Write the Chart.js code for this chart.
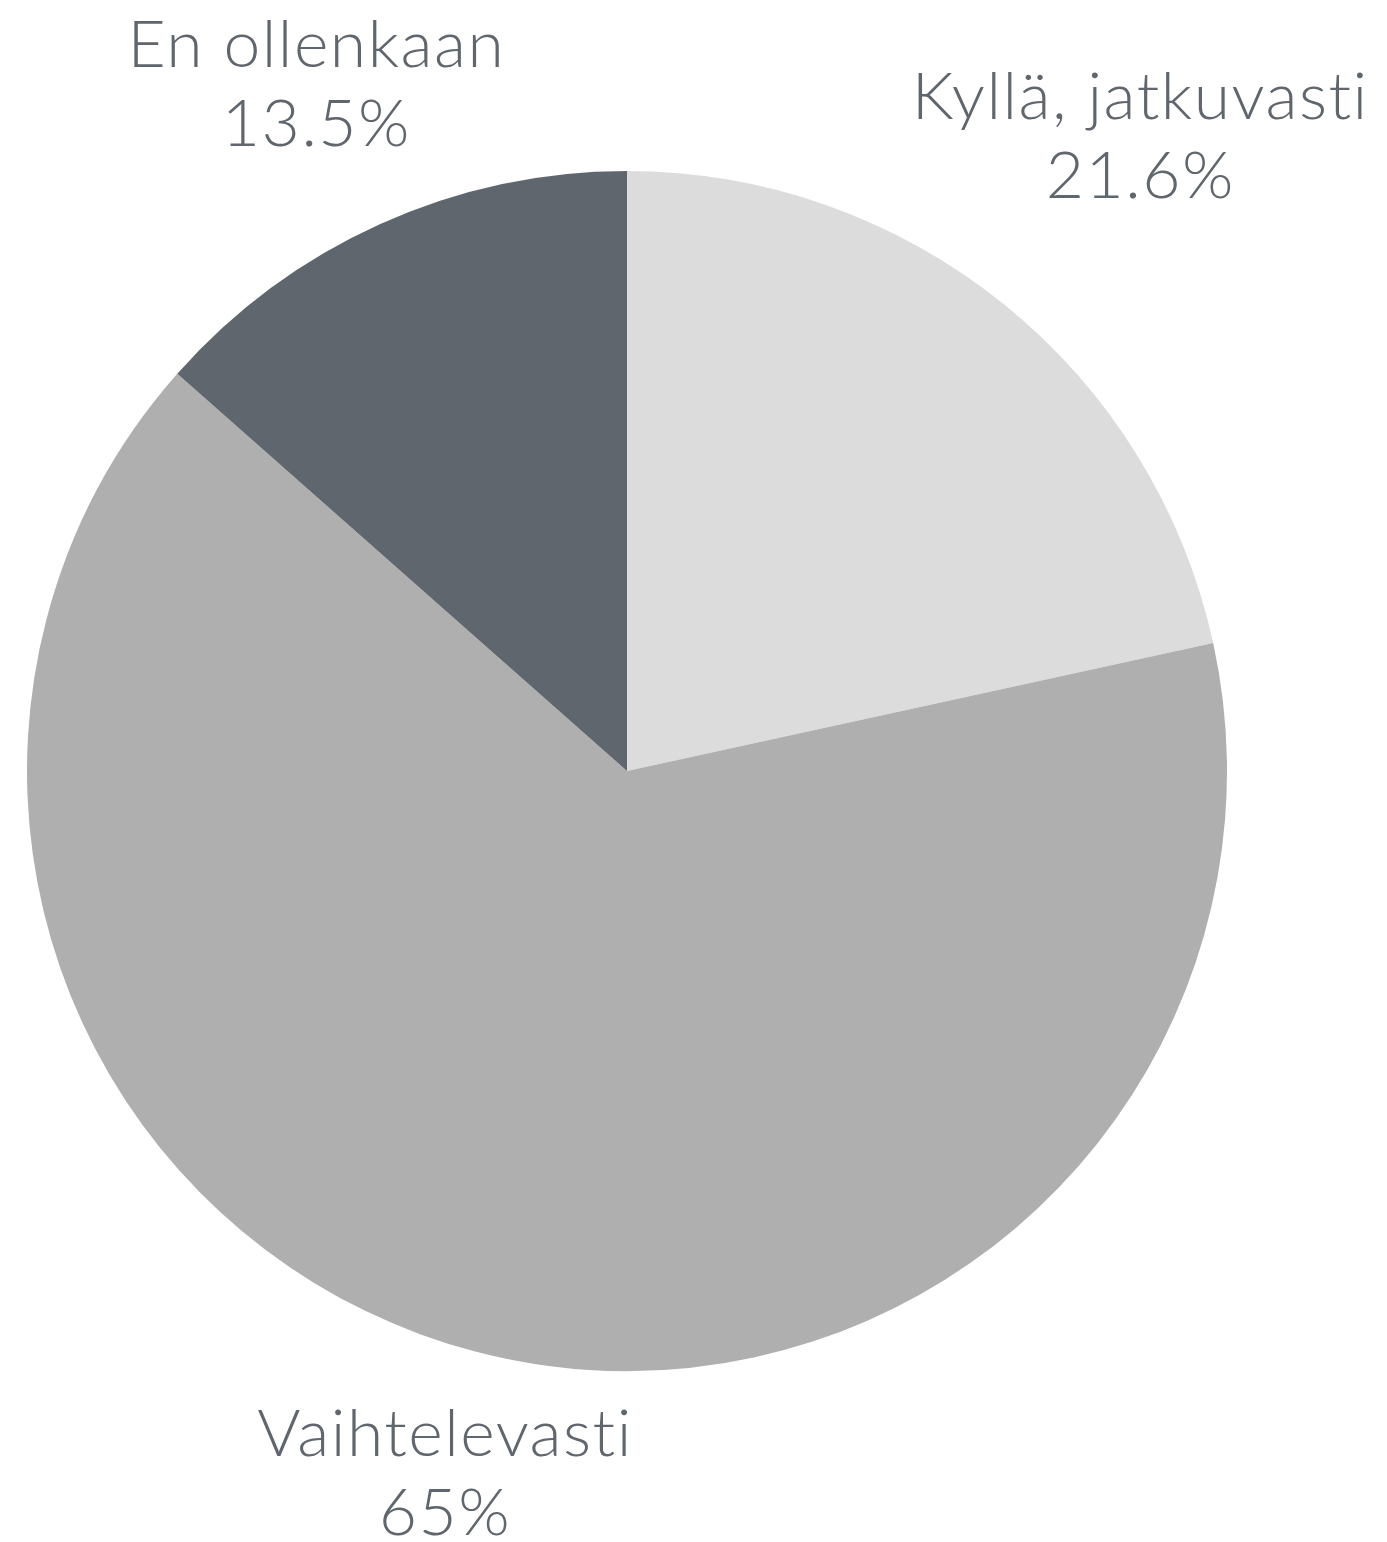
<!DOCTYPE html>
<html>
<head>
<meta charset="utf-8">
<script src="https://cdn.jsdelivr.net/npm/chart.js@4/dist/chart.umd.min.js"></script>
<style>
  html, body { margin: 0; padding: 0; background: #ffffff; }
  canvas { display: block; }
</style>
</head>
<body>
<canvas id="pie" width="1387" height="1542"></canvas>
<script>
const labels = ['Kyllä, jatkuvasti', 'Vaihtelevasti', 'En ollenkaan']
const values = [21.6, 65, 13.5]
const valueTexts = ['21.6%', '65%', '13.5%']
const colors = ['#dcdcdc', '#afafaf', '#5f666d']

// draws the two line labels outside each slice
const outsideLabels = {
  id: 'outsideLabels',
  afterDatasetsDraw(chart, args, opts) {
    const ctx = chart.ctx
    const arcs = chart.getDatasetMeta(0).data
    ctx.save()
    ctx.fillStyle = opts.color
    ctx.font = opts.font
    ctx.letterSpacing = '1.5px'
    ctx.textAlign = 'center'
    ctx.textBaseline = 'alphabetic'
    arcs.forEach((arc, i) => {
      const mid = (arc.startAngle + arc.endAngle) / 2
      const r = arc.outerRadius * opts.distance[i]
      const cx = arc.x + Math.cos(mid) * r
      const cy = arc.y + Math.sin(mid) * r
      ctx.fillText(labels[i], cx, cy - 15)
      ctx.fillText(valueTexts[i], cx, cy + 64)
    })
    ctx.restore()
  }
}

new Chart(document.getElementById('pie'), {
  type: 'pie',
  data: {
    labels: labels,
    datasets: [{
      data: values,
      backgroundColor: colors,
      borderWidth: 0
    }]
  },
  options: {
    responsive: false,
    animation: false,
    devicePixelRatio: 1,
    layout: { padding: { left: 27, right: 160, top: 171, bottom: 171 } },
    plugins: {
      legend: { display: false },
      tooltip: { enabled: false },
      outsideLabels: {
        color: '#5f666d',
        font: '300 66px Lato',
        distance: [1.364, 1.206, 1.259]
      }
    }
  },
  plugins: [outsideLabels]
})
</script>
</body>
</html>
